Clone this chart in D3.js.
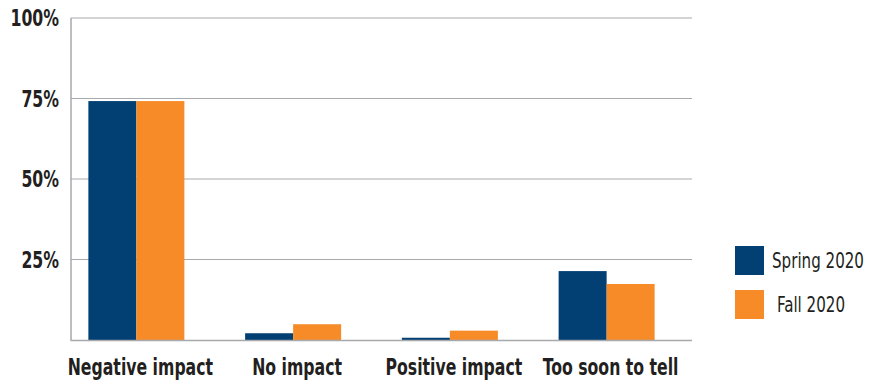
<!DOCTYPE html>
<html>
<head>
<meta charset="utf-8">
<script src="https://cdn.jsdelivr.net/npm/d3@7"></script>
<style>
  html, body { margin: 0; padding: 0; background: #fff; }
  svg { display: block; }
  .lbl { font-family: "DejaVu Sans Condensed", "DejaVu Sans", sans-serif; fill: #231f20; }
</style>
</head>
<body>
<svg id="chart" width="871" height="383"></svg>
<script>
// Survey responses: share of respondents per perceived impact
const categories = ["Negative impact", "No impact", "Positive impact", "Too soon to tell"];
const seriesNames = ["Spring 2020", "Fall 2020"];
const spring2020 = [74.2, 2.1, 0.7, 21.4];
const fall2020 = [74.2, 4.9, 2.9, 17.4];
const yTicks = [25, 50, 75, 100];
const tickLabels = ["25%", "50%", "75%", "100%"];
const colors = ["#023f73", "#f68b28"];

const svg = d3.select("#chart");
const plot = { left: 71, right: 692, top: 18, bottom: 340 };

const y = d3.scaleLinear().domain([0, 100]).range([plot.bottom, plot.top]);
const x0 = d3.scaleBand().domain(categories).range([58, 685]).padding(0);
const pairHalf = 48;
const x1 = d3.scaleBand().domain(seriesNames)
  .range([x0.bandwidth() / 2 - pairHalf, x0.bandwidth() / 2 + pairHalf]).padding(0);

const rows = categories.map((c, i) => ({ cat: c, values: [spring2020[i], fall2020[i]] }));

// Narrow lettering: text squeezed horizontally around its anchor point
const squeeze = 0.76;
function narrowText(sel, fx, fy, k) {
  return sel.append("g")
    .attr("transform", (d, i) => `translate(${fx(d, i)},${fy(d, i)}) scale(${k},1)`)
    .append("text").attr("class", "lbl");
}

// Horizontal gridlines
svg.append("g").selectAll("line").data(yTicks).join("line")
  .attr("x1", plot.left).attr("x2", plot.right)
  .attr("y1", d => y(d)).attr("y2", d => y(d))
  .attr("stroke", "#a7a9ac").attr("stroke-width", 1.2);

// Bars
const groups = svg.append("g").selectAll("g").data(rows).join("g")
  .attr("transform", d => `translate(${x0(d.cat)},0)`);
groups.selectAll("rect").data(d => d.values.map((v, k) => ({ s: seriesNames[k], v, k })))
  .join("rect")
  .attr("x", d => x1(d.s))
  .attr("width", x1.bandwidth())
  .attr("y", d => y(d.v))
  .attr("height", d => y(0) - y(d.v))
  .attr("fill", d => colors[d.k]);

// Axis lines (left and baseline)
svg.append("line").attr("x1", plot.left).attr("x2", plot.left)
  .attr("y1", plot.top).attr("y2", plot.bottom + 1)
  .attr("stroke", "#a7a9ac").attr("stroke-width", 1.5);
svg.append("line").attr("x1", plot.left).attr("x2", plot.right)
  .attr("y1", plot.bottom + 0.5).attr("y2", plot.bottom + 0.5)
  .attr("stroke", "#a7a9ac").attr("stroke-width", 1.5);

// Y tick labels
const yLab = svg.append("g").selectAll("g").data(yTicks).join("g");
narrowText(yLab, () => 59, d => y(d), squeeze)
  .attr("dy", "0.36em")
  .attr("text-anchor", "end")
  .style("font-size", "23px").style("font-weight", "bold")
  .text((d, i) => tickLabels[i]);

// Category labels
const xLab = svg.append("g").selectAll("g").data(categories).join("g");
narrowText(xLab, d => x0(d) + x0.bandwidth() / 2 + 4, () => 375, squeeze)
  .attr("text-anchor", "middle")
  .style("font-size", "23px").style("font-weight", "bold")
  .text(d => d);

// Legend
const legend = svg.append("g").attr("transform", "translate(735,246)");
const items = legend.selectAll("g").data(seriesNames).join("g")
  .attr("transform", (d, i) => `translate(0,${i * 44})`);
items.append("rect").attr("width", 29).attr("height", 29).attr("fill", (d, i) => colors[i]);
narrowText(items, (d, i) => i === 0 ? 37 : 42, () => 21.5, 0.8)
  .style("font-size", "21px")
  .text(d => d);
</script>
</body>
</html>
